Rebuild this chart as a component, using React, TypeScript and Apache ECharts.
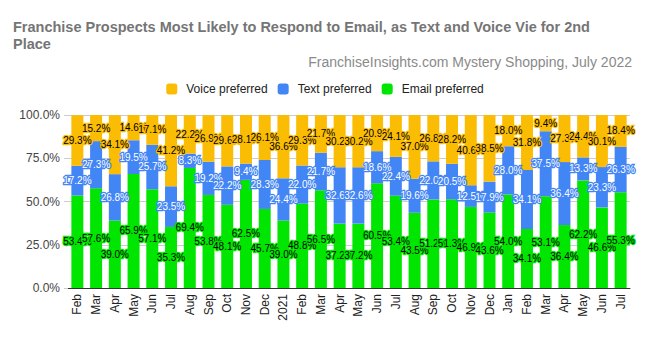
import React, { useEffect, useRef } from "react";
import * as echarts from "echarts";

const categories = ["Feb","Mar","Apr","May","Jun","Jul","Aug","Sep","Oct","Nov","Dec","2021","Feb","Mar","Apr","May","Jun","Jul","Aug","Sep","Oct","Nov","Dec","Jan","Feb","Mar","Apr","May","Jun","Jul"];
const emailPreferred = [53.4,57.6,39.0,65.9,57.1,35.3,69.4,53.8,48.1,62.5,45.7,39.0,48.8,56.5,37.2,37.2,60.5,53.4,43.5,51.2,51.3,46.9,43.6,54.0,34.1,53.1,36.4,62.2,46.6,55.3];
const textPreferred = [17.2,27.3,26.8,19.5,25.7,23.5,8.3,19.2,22.2,9.4,28.3,24.4,22.0,21.7,32.6,32.6,18.6,22.4,19.6,22.0,20.5,12.5,17.9,28.0,34.1,37.5,36.4,13.3,23.3,26.3];
const voicePreferred = [29.3,15.2,34.1,14.6,17.1,41.2,22.2,26.9,29.6,28.1,26.1,36.6,29.3,21.7,30.2,30.2,20.9,24.1,37.0,26.8,28.2,40.6,38.5,18.0,31.8,9.4,27.3,24.4,30.1,18.4];
const yTicks = [0, 25, 50, 75, 100];

const FONT = "Liberation Sans, Arial, sans-serif";

export default function App() {
  const ref = useRef<HTMLDivElement>(null);
  useEffect(() => {
    if (!ref.current) return;
    const chart = echarts.init(ref.current, null, { renderer: "svg" });
    const mk = (name: string, data: number[], color: string, textColor: string) => ({
      name,
      type: "bar",
      stack: "total",
      data,
      barCategoryGap: "36%",
      itemStyle: { color },
      label: {
        show: true,
        position: "inside",
        formatter: (p: any) => Number(p.value).toFixed(1) + "%",
        fontSize: 10,
        fontFamily: FONT,
        color: textColor,
        textBorderColor: color,
        textBorderWidth: 2.5,
      },
    });
    chart.setOption({
      animation: false,
      textStyle: { fontFamily: FONT },
      title: [
        {
          text: "Franchise Prospects Most Likely to Respond to Email, as Text and Voice Vie for 2nd\nPlace",
          left: 13,
          top: 18,
          padding: 0,
          textStyle: { fontSize: 14.5, fontWeight: "bold", color: "#757575", lineHeight: 17, fontFamily: FONT },
        },
        {
          text: "FranchiseInsights.com Mystery Shopping, July 2022",
          right: 18,
          top: 55,
          padding: 0,
          textStyle: { fontSize: 14, fontWeight: "normal", color: "#8a8a8a", fontFamily: FONT },
        },
      ],
      legend: {
        data: ["Voice preferred", "Text preferred", "Email preferred"],
        top: 78,
        left: "center",
        itemWidth: 11,
        itemHeight: 11,
        itemGap: 10,
        icon: "roundRect",
        textStyle: { fontSize: 12, color: "#222", fontFamily: FONT, padding: [0, 0, 0, 4] },
      },
      grid: { left: 68, right: 20, top: 115, bottom: 51, containLabel: false },
      xAxis: {
        type: "category",
        data: categories,
        axisLine: { lineStyle: { color: "#333" } },
        axisTick: { show: false },
        axisLabel: { rotate: 90, fontSize: 12, color: "#222", margin: 6, interval: 0, fontFamily: FONT },
      },
      yAxis: {
        type: "value",
        min: yTicks[0],
        max: yTicks[yTicks.length - 1],
        interval: 25,
        axisLine: { show: false },
        axisTick: { show: true, length: 4, lineStyle: { color: "#ccc" } },
        splitLine: { lineStyle: { color: "#ccc" } },
        axisLabel: {
          fontSize: 12,
          color: "#444",
          margin: 8,
          fontFamily: FONT,
          formatter: (v: number) => v.toFixed(1) + "%",
        },
      },
      series: [
        mk("Email preferred", emailPreferred, "#00e600", "#000"),
        mk("Text preferred", textPreferred, "#4285f4", "#fff"),
        mk("Voice preferred", voicePreferred, "#fbbc04", "#000"),
      ],
    });
    return () => chart.dispose();
  }, []);
  return <div ref={ref} style={{ width: 650, height: 339, position: "absolute", left: 0, top: 0 }} />;
}
